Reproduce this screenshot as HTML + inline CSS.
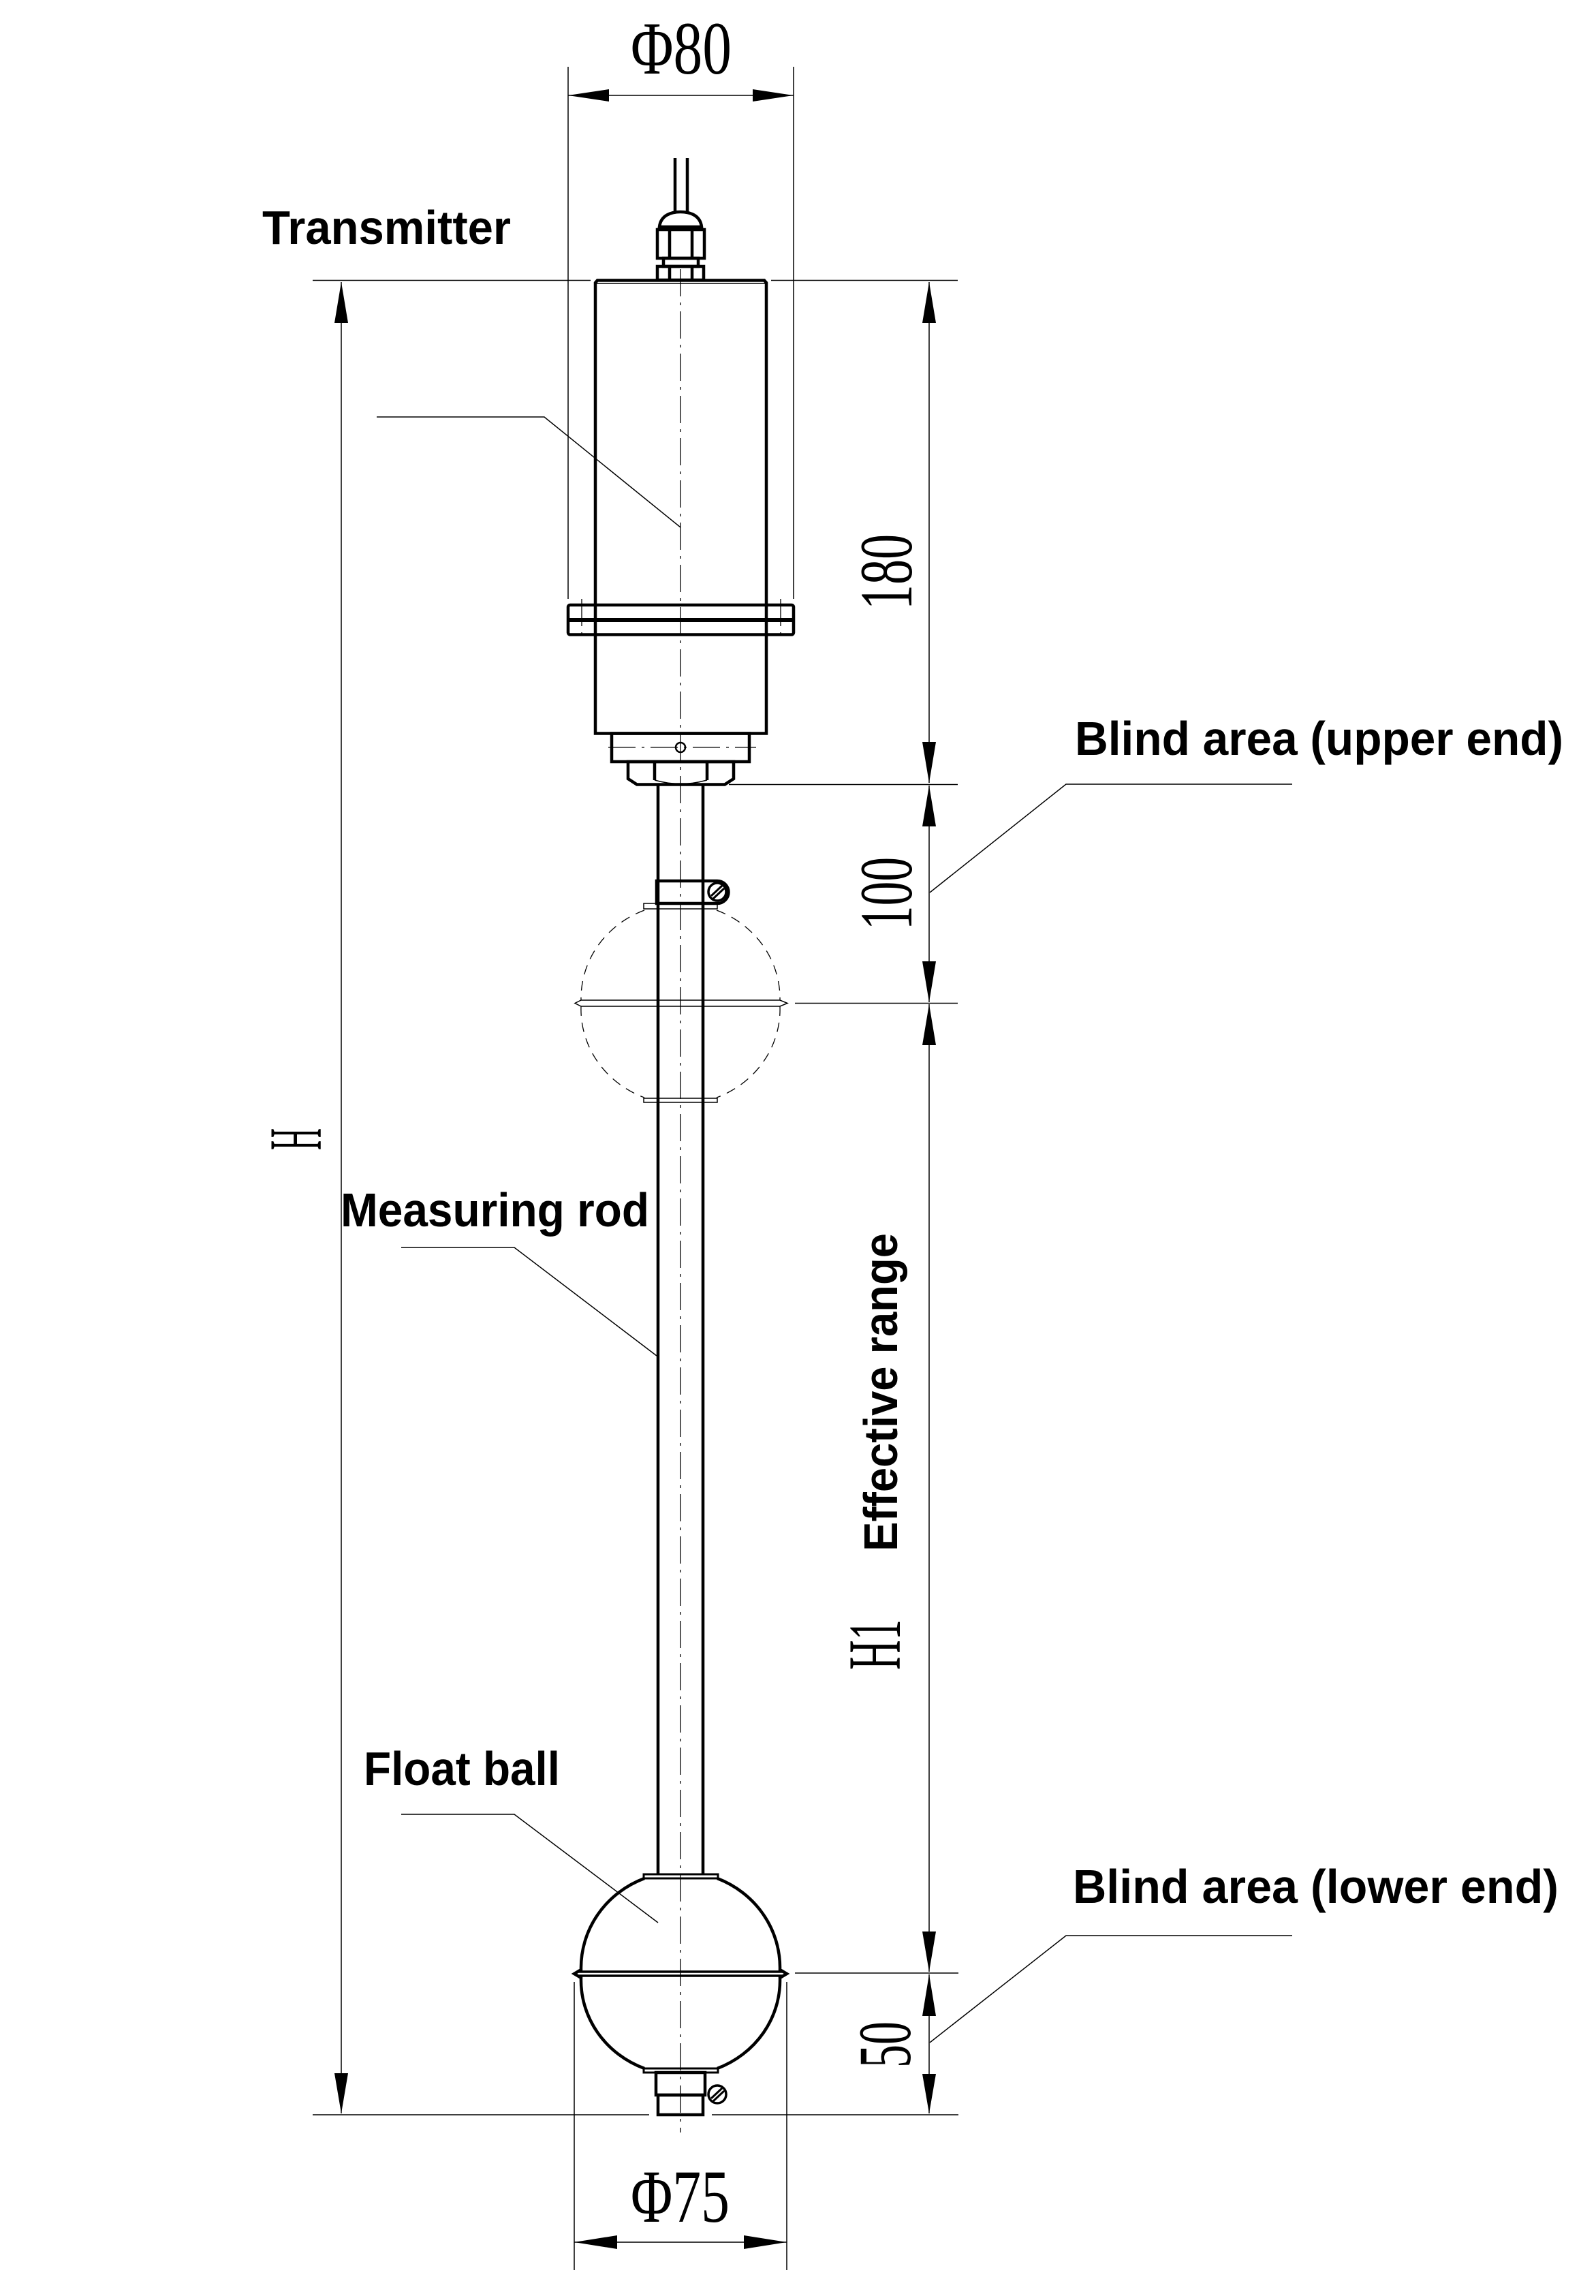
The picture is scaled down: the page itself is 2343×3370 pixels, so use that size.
<!DOCTYPE html>
<html><head><meta charset="utf-8"><style>
html,body{margin:0;padding:0;background:#fff;}
svg{display:block;}
.t{stroke:#000;stroke-width:1.5;fill:none;}
.k{stroke:#000;stroke-width:4.5;fill:none;}
.g{stroke:#000;stroke-width:1.3;fill:none;stroke-dasharray:14 10;}
.c{stroke:#000;stroke-width:1.3;fill:none;stroke-dasharray:40 9 4 9;}
.a{fill:#000;stroke:none;}
.lb{font-family:"Liberation Sans",sans-serif;font-weight:bold;font-size:70px;fill:#000;}
.dm{font-family:"Liberation Serif",serif;font-size:110px;fill:#000;}
</style></head><body>
<svg width="2343" height="3370" viewBox="0 0 2343 3370" xmlns="http://www.w3.org/2000/svg">
<rect width="2343" height="3370" fill="#fff"/>

<line class="c" x1="999" y1="395" x2="999" y2="3130"/>

<line class="t" x1="834" y1="98" x2="834" y2="879"/>
<line class="t" x1="1165" y1="98" x2="1165" y2="879"/>
<line class="t" x1="834" y1="140" x2="1165" y2="140"/>
<polygon class="a" points="834,140 894,131 894,149"/>
<polygon class="a" points="1165,140 1105,131 1105,149"/>
<text class="dm" x="926" y="108" textLength="148" lengthAdjust="spacingAndGlyphs">Φ80</text>

<line class="t" x1="459" y1="411.5" x2="867" y2="411.5"/>
<line class="t" x1="1132" y1="411.5" x2="1406" y2="411.5"/>

<line class="t" x1="501" y1="414" x2="501" y2="3102"/>
<polygon class="a" points="501,414 491,474 511,474"/>
<polygon class="a" points="501,3102 491,3043 511,3043"/>
<text class="dm" transform="translate(471,1688) rotate(-90)" textLength="32" lengthAdjust="spacingAndGlyphs">H</text>

<line class="t" x1="1364" y1="414" x2="1364" y2="1149"/>
<polygon class="a" points="1364,414 1354,474 1374,474"/>
<polygon class="a" points="1364,1149 1354,1089 1374,1089"/>
<text class="dm" transform="translate(1338,895) rotate(-90)" textLength="111" lengthAdjust="spacingAndGlyphs">180</text>

<line class="t" x1="1070" y1="1151.5" x2="1406" y2="1151.5"/>
<line class="t" x1="1364" y1="1153" x2="1364" y2="1471"/>
<polygon class="a" points="1364,1153 1354,1213 1374,1213"/>
<polygon class="a" points="1364,1471 1354,1411 1374,1411"/>
<text class="dm" transform="translate(1338,1365) rotate(-90)" textLength="107" lengthAdjust="spacingAndGlyphs">100</text>
<line class="t" x1="1167" y1="1472.5" x2="1406" y2="1472.5"/>

<line class="t" x1="1364" y1="1474" x2="1364" y2="2894"/>
<polygon class="a" points="1364,1474 1354,1534 1374,1534"/>
<polygon class="a" points="1364,2894 1354,2835 1374,2835"/>
<text class="lb" transform="translate(1317,2277) rotate(-90)" textLength="467" lengthAdjust="spacingAndGlyphs">Effective range</text>
<text class="dm" transform="translate(1321,2451) rotate(-90)" textLength="74" lengthAdjust="spacingAndGlyphs">H1</text>

<line class="t" x1="1167" y1="2896" x2="1407" y2="2896"/>
<line class="t" x1="1364" y1="2898" x2="1364" y2="3102"/>
<polygon class="a" points="1364,2898 1354,2959 1374,2959"/>
<polygon class="a" points="1364,3102 1354,3044 1374,3044"/>
<text class="dm" transform="translate(1336,3035) rotate(-90)" textLength="68" lengthAdjust="spacingAndGlyphs">50</text>

<line class="t" x1="459" y1="3104" x2="953" y2="3104"/>
<line class="t" x1="1045" y1="3104" x2="1407" y2="3104"/>

<line class="t" x1="843" y1="2909" x2="843" y2="3332"/>
<line class="t" x1="1155" y1="2909" x2="1155" y2="3332"/>
<line class="t" x1="843" y1="3291" x2="1155" y2="3291"/>
<polygon class="a" points="843,3291 906,3281 906,3301"/>
<polygon class="a" points="1155,3291 1092,3281 1092,3301"/>
<text class="dm" x="926" y="3261" textLength="145" lengthAdjust="spacingAndGlyphs">Φ75</text>

<polyline class="t" points="553,612 799,612 999,774"/>
<polyline class="t" points="589,1831 755,1831 964,1990"/>
<polyline class="t" points="589,2663 755,2663 966,2822"/>
<polyline class="t" points="1897,1151 1565,1151 1365,1310"/>
<polyline class="t" points="1897,2841 1565,2841 1365,2998"/>

<text class="lb" x="385" y="358" textLength="365" lengthAdjust="spacingAndGlyphs">Transmitter</text>
<text class="lb" x="500" y="1800" textLength="453" lengthAdjust="spacingAndGlyphs">Measuring rod</text>
<text class="lb" x="534" y="2620" textLength="288" lengthAdjust="spacingAndGlyphs">Float ball</text>
<text class="lb" x="1578" y="1108" textLength="717" lengthAdjust="spacingAndGlyphs">Blind area (upper end)</text>
<text class="lb" x="1575" y="2793" textLength="713" lengthAdjust="spacingAndGlyphs">Blind area (lower end)</text>

<line class="k" x1="991" y1="232" x2="991" y2="311"/>
<line class="k" x1="1009" y1="232" x2="1009" y2="311"/>
<path class="k" d="M968,333 C970,316 985,311 999,311 C1013,311 1028,316 1030,333 Z"/>
<rect class="k" x="965" y="337" width="69" height="42"/>
<line class="k" x1="983" y1="337" x2="983" y2="379"/>
<line class="k" x1="1016" y1="337" x2="1016" y2="379"/>
<rect class="k" x="974" y="379" width="51" height="12"/>
<rect class="k" x="965" y="391" width="68" height="20"/>
<line class="k" x1="983" y1="391" x2="983" y2="411"/>
<line class="k" x1="1016" y1="391" x2="1016" y2="411"/>

<path class="k" d="M874,1076.5 L874,415 L877,411.5 L1122,411.5 L1125,415 L1125,1076.5 Z"/>
<line class="t" x1="875" y1="416" x2="1124" y2="416"/>
<rect class="k" x="834" y="888" width="331" height="43.5" rx="3"/>
<line class="k" x1="834" y1="910" x2="1165" y2="910" style="stroke-width:6"/>
<line class="c" x1="854" y1="879" x2="854" y2="941"/>
<line class="c" x1="1146" y1="879" x2="1146" y2="941"/>
<rect class="k" x="898" y="1076.5" width="202" height="41.5"/>
<circle class="k" cx="999" cy="1097" r="7" style="stroke-width:2.5"/>
<line class="c" x1="893" y1="1097" x2="1110" y2="1097"/>
<path class="k" d="M922,1118 L922,1143 L935,1151.5 L1064,1151.5 L1077,1143 L1077,1118 Z"/>
<line class="k" x1="961" y1="1118" x2="961" y2="1145"/>
<line class="k" x1="1038" y1="1118" x2="1038" y2="1145"/>
<path class="t" d="M961,1145 Q999,1156 1038,1145"/>

<line class="k" x1="966" y1="1151.5" x2="966" y2="2752"/>
<line class="k" x1="1032" y1="1151.5" x2="1032" y2="2752"/>

<path class="k" d="M964,1293 L1053,1293 A16,16 0 0 1 1053,1326 L964,1326 Z"/>
<circle class="k" cx="1053" cy="1309" r="13" style="stroke-width:3.5"/>
<line class="k" x1="1044" y1="1315" x2="1060" y2="1300" style="stroke-width:3"/>
<line class="k" x1="1047" y1="1319" x2="1063" y2="1304" style="stroke-width:3"/>

<rect class="t" x="945" y="1326" width="108" height="8"/>
<rect class="t" x="945" y="1612" width="108" height="6"/>
<path class="g" d="M946,1336 A146,139 0 0 0 853,1468 M853,1477 A146,139 0 0 0 946,1611 M1052,1336 A146,139 0 0 1 1145,1468 M1145,1477 A146,139 0 0 1 1052,1611"/>
<path class="t" d="M844,1472.5 L853,1468 L1145,1468 L1156,1472.5 L1145,1477 L853,1477 Z"/>

<rect class="k" x="945" y="2751" width="109" height="6" style="stroke-width:3"/>
<path class="k" d="M946,2757 A146,141 0 0 0 853,2891 L843,2897 L853,2903 A146,139 0 0 0 946,3036"/>
<path class="k" d="M1053,2757 A146,141 0 0 1 1145,2891 L1155,2897 L1145,2903 A146,139 0 0 1 1053,3036"/>
<line class="k" x1="848" y1="2894" x2="1150" y2="2894" style="stroke-width:3.5"/>
<line class="k" x1="848" y1="2900" x2="1150" y2="2900" style="stroke-width:3.5"/>
<rect class="k" x="945" y="3036" width="109" height="6" style="stroke-width:3"/>
<rect class="k" x="963" y="3042" width="72" height="33"/>
<rect class="k" x="966" y="3075" width="66" height="29"/>
<circle class="k" cx="1053" cy="3074" r="13" style="stroke-width:3.5"/>
<line class="k" x1="1044" y1="3080" x2="1060" y2="3065" style="stroke-width:3"/>
<line class="k" x1="1047" y1="3084" x2="1063" y2="3069" style="stroke-width:3"/>
</svg>
</body></html>
